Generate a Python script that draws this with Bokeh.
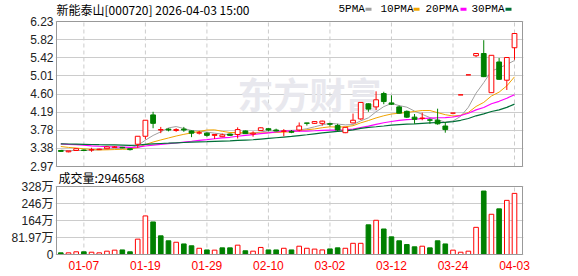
from bokeh.plotting import figure
from bokeh.models import ColumnDataSource, FixedTicker, Range1d
from bokeh.core.properties import value
from bokeh.embed import file_html
from bokeh.resources import INLINE

# ---------------- data ----------------
dates = ["12-31",
         "01-05", "01-06", "01-07", "01-08", "01-09", "01-12", "01-13", "01-14", "01-15", "01-16",
         "01-19", "01-20", "01-21", "01-22", "01-23", "01-26", "01-27", "01-28", "01-29", "01-30",
         "02-02", "02-03", "02-04", "02-05", "02-06", "02-09", "02-10", "02-11", "02-12", "02-13",
         "02-24", "02-25", "02-26", "02-27",
         "03-02", "03-03", "03-04", "03-05", "03-06", "03-09", "03-10", "03-11", "03-12", "03-13",
         "03-16", "03-17", "03-18", "03-19", "03-20", "03-23", "03-24", "03-25", "03-26", "03-27",
         "03-30", "03-31", "04-01", "04-02", "04-03"]

opens = [3.33, 3.30, 3.33, 3.34, 3.34, 3.35, 3.37, 3.40, 3.40, 3.37,
         3.47, 3.65, 4.13, 3.79, 3.81, 3.78, 3.81, 3.77, 3.72, 3.72,
         3.67, 3.64, 3.70, 3.69, 3.77, 3.70, 3.78, 3.82, 3.79, 3.76,
         3.76, 3.79, 3.95, 3.94, 3.94, 3.93, 3.89, 3.73, 3.95, 4.04,
         4.38, 4.31, 4.61, 4.40, 4.31, 4.21, 4.08, 4.05, 4.02, 4.01,
         3.88, 4.17, 4.58, 5.03, 5.46, 5.51, 4.63, 5.32, 4.91, 5.64]
highs = [3.34, 3.32, 3.38, 3.35, 3.39, 3.37, 3.42, 3.43, 3.41, 3.37,
         3.65, 4.01, 4.20, 3.86, 3.83, 3.83, 3.86, 3.78, 3.77, 3.74,
         3.69, 3.71, 3.71, 3.85, 3.78, 3.76, 3.85, 3.83, 3.82, 3.81,
         3.79, 3.96, 3.95, 3.99, 4.00, 3.95, 3.93, 3.86, 4.16, 4.41,
         4.39, 4.66, 4.65, 4.57, 4.34, 4.23, 4.15, 4.18, 4.05, 4.27,
         3.97, 4.17, 4.58, 5.03, 5.52, 5.81, 5.47, 5.41, 5.42, 5.97]
lows = [3.30, 3.29, 3.32, 3.32, 3.30, 3.35, 3.36, 3.39, 3.38, 3.33,
        3.39, 3.58, 3.83, 3.72, 3.76, 3.75, 3.75, 3.63, 3.69, 3.64,
        3.59, 3.63, 3.66, 3.60, 3.70, 3.64, 3.77, 3.76, 3.76, 3.65,
        3.72, 3.76, 3.89, 3.93, 3.89, 3.87, 3.76, 3.72, 3.94, 4.02,
        4.20, 4.24, 4.37, 4.35, 4.16, 4.06, 3.93, 4.01, 3.93, 3.91,
        3.73, 4.17, 4.58, 5.03, 5.43, 4.98, 4.63, 4.92, 4.69, 5.37]
closes = [3.31, 3.32, 3.37, 3.33, 3.35, 3.36, 3.41, 3.41, 3.39, 3.35,
          3.65, 4.01, 3.94, 3.80, 3.79, 3.80, 3.79, 3.72, 3.73, 3.67,
          3.69, 3.68, 3.67, 3.80, 3.71, 3.72, 3.84, 3.79, 3.77, 3.77,
          3.74, 3.88, 3.94, 3.98, 3.99, 3.92, 3.79, 3.85, 4.01, 4.41,
          4.26, 4.47, 4.43, 4.37, 4.17, 4.08, 4.03, 4.06, 4.01, 3.93,
          3.80, 4.17, 4.58, 5.03, 5.51, 4.99, 5.47, 4.93, 5.42, 5.96]
# volume in 万 (10k lots)
volumes = [8, 8, 13, 13, 11, 8, 16, 21, 22, 13,
           74, 186, 157, 90, 66, 59, 51, 42, 30, 22,
           21, 32, 32, 45, 18, 16, 34, 22, 22, 30,
           22, 40, 30, 26, 22, 27, 32, 30, 54, 54,
           143, 165, 123, 85, 66, 48, 37, 40, 32, 66,
           51, 21, 11, 16, 131, 306, 194, 220, 261, 294.66]
# closes before the visible window (needed for the moving averages)
prior_closes = [3.44, 3.46, 3.45, 3.47, 3.50, 3.49, 3.48, 3.51, 3.50, 3.50,
                3.52, 3.55, 3.58, 3.60, 3.57, 3.55, 3.53, 3.52, 3.50, 3.48,
                3.52, 3.51, 3.50, 3.49, 3.48, 3.38, 3.35, 3.33, 3.32]

price_ticks = [2.97, 3.3775, 3.785, 4.1925, 4.60, 5.0075, 5.415, 5.8225, 6.23]
price_tick_labels = ["2.97", "3.38", "3.78", "4.19", "4.60", "5.01", "5.42", "5.82", "6.23"]
vol_ticks = [0, 81.97, 163.94, 245.91, 327.88]
vol_tick_labels = ["0", "81.97万", "164万", "246万", "328万"]
date_tick_idx = [3, 11, 19, 27, 35, 43, 51, 59]

title_text = "新能泰山[000720] 2026-04-03 15:00"
vol_title = "成交量:2946568"
watermark = "东方财富"
ma_periods = [5, 10, 20, 30]
ma_names = ["5PMA", "10PMA", "20PMA", "30PMA"]
ma_colors = ["#a0a0a0", "#f0a400", "#ff00ff", "#006f38"]

# ---------------- derived ----------------
RED = "#ff0000"
GREEN = "#008000"
n = len(closes)
xs = list(range(n))
up = [c >= o for o, c in zip(opens, closes)]
prev = [prior_closes[-1]] + closes[:-1]
vup = [c >= pc for c, pc in zip(closes, prev)]
src = ColumnDataSource(dict(
    x=xs, high=highs, low=lows,
    top=[max(o, c) for o, c in zip(opens, closes)],
    bottom=[min(o, c) for o, c in zip(opens, closes)],
    color=[RED if u else GREEN for u in up],
    fill=["#ffffff" if u else GREEN for u in up],
    vol=volumes,
    vcolor=[RED if u else GREEN for u in vup],
    vfill=["#ffffff" if u else GREEN for u in vup],
))
allc = prior_closes + closes
npre = len(prior_closes)
def ma(k):
    return [sum(allc[j - k + 1:j + 1]) / k for j in range(npre, len(allc))]

# ---------------- geometry (pixels) ----------------
W, H = 578, 276
FL, FR = 56, 522          # panel boxes left / right
PT, PB = 21, 166          # price panel top / bottom
VT, VB = 186, 254         # volume panel top / bottom
FB = 256                  # drawing frame bottom
X0, X1 = -0.56, 60.04
P0, P1 = price_ticks[0], price_ticks[-1]
V1 = vol_ticks[-1]
pxu = (X1 - X0) / (FR - FL)
kp = (P1 - P0) / (PB - PT)
kv = V1 / (VB - VT)

def dx(px):
    return X0 + (px - FL) * pxu

def yp(py):
    return P1 - (py - PT) * kp

def vol_as_price(v):
    return yp(VB - v / kv)

CJK = "'Liberation Sans', 'Noto Sans CJK SC'"

p = figure(width=W, height=H, x_range=Range1d(X0 - pxu, X1 + pxu),
           y_range=Range1d(yp(FB), yp(0)),
           output_backend="svg", toolbar_location=None, tools="",
           min_border_left=FL - 1, min_border_right=W - FR - 1,
           min_border_top=0, min_border_bottom=H - FB)
p.extra_y_ranges = {"vol": Range1d(-(FB - VB) * kv, V1 + VT * kv)}
p.outline_line_color = None
p.background_fill_color = "white"
p.border_fill_color = "white"

# y axis: price ticks plus volume ticks (volume ticks expressed on the price scale)
vol_pos = [vol_as_price(v) for v in vol_ticks]
all_ticks = price_ticks + vol_pos
overrides = {t: l for t, l in zip(price_ticks, price_tick_labels)}
overrides.update({t: l for t, l in zip(vol_pos, vol_tick_labels)})
p.yaxis.ticker = FixedTicker(ticks=all_ticks)
p.yaxis.major_label_overrides = overrides
p.ygrid.ticker = FixedTicker(ticks=all_ticks)
p.ygrid.grid_line_color = "#cccccc"
p.xgrid.visible = False
p.xaxis.ticker = FixedTicker(ticks=date_tick_idx)
p.xaxis.major_label_overrides = {i: dates[i] for i in date_tick_idx}
for ax in (p.xaxis, p.yaxis):
    ax.axis_line_color = None
    ax.major_tick_line_color = None
    ax.minor_tick_line_color = None
    ax.major_tick_out = 0
    ax.major_tick_in = 0
    ax.major_label_text_font = CJK
    ax.major_label_text_font_size = "12px"
p.yaxis.major_label_standoff = 2
p.yaxis.major_label_text_color = "#222222"
p.xaxis.major_label_standoff = 4
p.xaxis.major_label_text_color = RED

# vertical dashed grid lines inside each panel
nt = len(date_tick_idx)
p.segment(x0=date_tick_idx, x1=date_tick_idx, y0=[P0] * nt, y1=[P1] * nt,
          line_color="#cccccc", line_dash="4 3", line_width=1)
p.segment(x0=date_tick_idx, x1=date_tick_idx, y0=[0] * nt, y1=[V1] * nt,
          line_color="#cccccc", line_dash="4 3", line_width=1, y_range_name="vol")

# watermark
p.text(x=[dx(309)], y=[yp(92.5)], text=[watermark], text_font=value("Noto Sans CJK SC"),
       text_font_size="36px", text_font_style="bold", text_color="#e8e8ee",
       text_align="center", text_baseline="middle")

# moving averages
for k, col in zip(ma_periods, ma_colors):
    p.line(xs, ma(k), line_color=col, line_width=1.2 if k >= 20 else 1)

# candles
p.segment(x0="x", y0="low", x1="x", y1="high", line_color="color", line_width=1, source=src)
p.vbar(x="x", width=0.62, top="top", bottom="bottom", fill_color="fill",
       line_color="color", line_width=1, source=src)

# volume
p.vbar(x="x", width=0.6, top="vol", bottom=0, fill_color="vfill", line_color="vcolor",
       line_width=1, source=src, y_range_name="vol")

# panel boxes
p.quad(left=[X0], right=[X1], bottom=[P0], top=[P1], fill_color=None,
       line_color="#999999", line_width=1)
p.quad(left=[X0], right=[X1], bottom=[0], top=[V1], fill_color=None,
       line_color="#999999", line_width=1, y_range_name="vol")

# header: title and MA legend
p.text(x=[dx(56)], y=[yp(8.8)], text=[title_text], text_font=value("Noto Sans CJK SC"),
       text_font_size="12px", text_color="#000000", text_baseline="middle")
leg_x = [338, 380, 425, 471]
sq_x = [368, 416, 463, 508]
p.text(x=[dx(v) for v in leg_x], y=[yp(8.8)] * 4, text=ma_names,
       text_font=value("Liberation Mono"), text_font_size="11px",
       text_color="#000000", text_baseline="middle")
p.rect(x=[dx(v) for v in sq_x], y=[yp(8.7)] * 4, width=6, height=3,
       width_units="screen", height_units="screen", fill_color=ma_colors, line_color=None)

# volume caption
p.text(x=[dx(58)], y=[yp(176.5)], text=[vol_title], text_font=value("Noto Sans CJK SC"),
       text_font_size="12px", text_color="#000000", text_baseline="middle")

open("out.html", "w").write(file_html(p, INLINE))
